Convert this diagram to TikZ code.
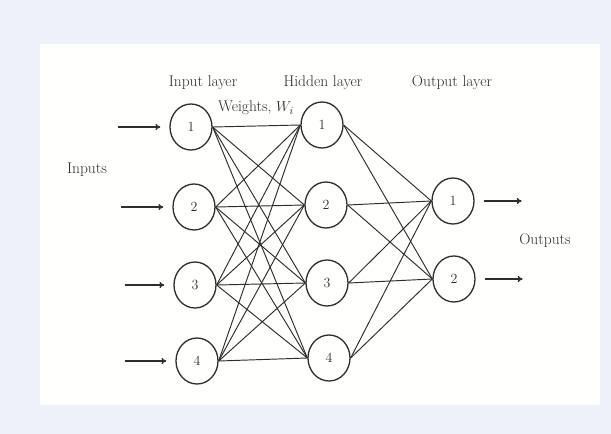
\documentclass[tikz,border=0pt]{standalone}
\usetikzlibrary{shapes.geometric,arrows.meta}
\definecolor{pagebg}{HTML}{EDF1F9}
\definecolor{panel}{HTML}{FFFFFD}
\definecolor{ink}{HTML}{2E2E2E}
\begin{document}
\begin{tikzpicture}[x=1pt,y=-1pt,
  neuron/.style={ellipse,draw=ink,line width=1.3pt,minimum width=42pt,minimum height=46pt,inner sep=0pt,font=\fontsize{14}{14}\selectfont,text=ink},
  lbl/.style={font=\fontsize{15.5}{15.5}\selectfont,text=ink,inner sep=0pt},
  wire/.style={draw=ink,line width=0.95pt},
  flow/.style={draw=ink,line width=1.3pt,-{To[length=5pt,width=6pt]}}]
  % page and panel
  \fill[pagebg] (0,0) rectangle (611,434);
  \useasboundingbox (0,0) rectangle (611,434);
  \fill[panel] (40,44) rectangle (600,405);

  % layers
  \node[neuron] (i1) at (191,127) {1};
  \node[neuron] (i2) at (194,207) {2};
  \node[neuron] (i3) at (195,285) {3};
  \node[neuron] (i4) at (197,361) {4};
  \node[neuron] (h1) at (322,125) {1};
  \node[neuron] (h2) at (326,205) {2};
  \node[neuron] (h3) at (327,283) {3};
  \node[neuron] (h4) at (329,358) {4};
  \node[neuron] (o1) at (453,201) {1};
  \node[neuron] (o2) at (454,279) {2};

  % headings and labels
  \node[lbl] (tin) at (203,83) {Input layer};
  \node[lbl] (thid) at (323,83) {Hidden layer};
  \node[lbl] (tout) at (452,83) {Output layer};
  \node[lbl] (tw) at (256,108) {Weights, $W_i$};
  \node[lbl] (tinputs) at (87,170) {Inputs};
  \node[lbl] (toutputs) at (545,241) {Outputs};

  % full connections
  \foreach \a in {1,...,4}
    \foreach \b in {1,...,4}
      \draw[wire] (i\a.east) -- (h\b.west);
  \foreach \a in {1,...,4}
    \foreach \b in {1,2}
      \draw[wire] (h\a.east) -- (o\b.west);

  % input and output arrows
  \foreach \k/\d in {1/-51,2/-51,3/-48,4/-50}
    \coordinate (s\k) at ([xshift=\d pt]i\k.west);
  \foreach \k in {1,...,4}
    \draw[flow] (s\k) -- ([xshift=-9pt]i\k.west);
  \foreach \k in {1,2}
    \coordinate (e\k) at ([xshift=47pt]o\k.east);
  \foreach \k in {1,2}
    \draw[flow] ([xshift=9pt]o\k.east) -- (e\k);
\end{tikzpicture}
\end{document}
